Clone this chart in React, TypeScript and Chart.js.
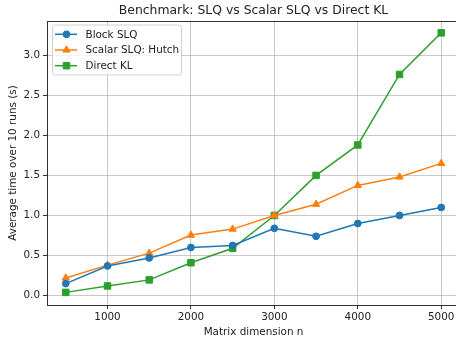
import React, { useEffect, useRef } from "react";
import { Chart, registerables } from "chart.js";

Chart.register(...registerables);

const sizes = [500, 1000, 1500, 2000, 2500, 3000, 3500, 4000, 4500, 5000];
const blockSLQ = [0.15, 0.37, 0.47, 0.6, 0.625, 0.84, 0.74, 0.9, 1.0, 1.1];
const scalarSLQ = [0.22, 0.38, 0.53, 0.755, 0.83, 1.0, 1.14, 1.375, 1.48, 1.65];
const directKL = [0.04, 0.12, 0.196, 0.41, 0.59, 1.0, 1.5, 1.88, 2.76, 3.28];
const xTicks = [1000, 2000, 3000, 4000, 5000];
const yTicks = [0, 0.5, 1.0, 1.5, 2.0, 2.5, 3.0];

const titleText = "Benchmark: SLQ vs Scalar SLQ vs Direct KL";
const xLabel = "Matrix dimension n";
const yLabel = "Average time over 10 runs (s)";

const FONT = "'DejaVu Sans', sans-serif";

const series = [
  { label: "Block SLQ", data: blockSLQ, color: "#1f77b4", style: "circle", radius: 3.4 },
  { label: "Scalar SLQ: Hutch", data: scalarSLQ, color: "#ff7f0e", style: "triangle", radius: 4.2 },
  { label: "Direct KL", data: directKL, color: "#2ca02c", style: "rect", radius: 4.6 },
];

function drawMarker(ctx: CanvasRenderingContext2D, style: string, radius: number, x: number, y: number) {
  ctx.beginPath();
  if (style === "circle") {
    ctx.arc(x, y, radius, 0, Math.PI * 2);
  } else if (style === "triangle") {
    const rad = -Math.PI / 2;
    ctx.moveTo(x + Math.cos(rad) * radius, y + Math.sin(rad) * radius);
    const r2 = rad + (2 * Math.PI) / 3;
    ctx.lineTo(x + Math.cos(r2) * radius, y + Math.sin(r2) * radius);
    const r3 = r2 + (2 * Math.PI) / 3;
    ctx.lineTo(x + Math.cos(r3) * radius, y + Math.sin(r3) * radius);
    ctx.closePath();
  } else {
    const s = Math.SQRT1_2 * radius;
    ctx.rect(x - s, y - s, 2 * s, 2 * s);
  }
  ctx.fill();
  ctx.stroke();
}

const decorPlugin = {
  id: "decor",
  afterDraw(chart: any) {
    const ctx = chart.ctx;
    const a = chart.chartArea;
    ctx.save();
    // top spine
    ctx.strokeStyle = "#333333";
    ctx.lineWidth = 1;
    ctx.beginPath();
    ctx.moveTo(a.left, a.top + 0.5);
    ctx.lineTo(a.right, a.top + 0.5);
    ctx.stroke();
    const cx = (a.left + a.right) / 2;
    ctx.fillStyle = "#222222";
    ctx.textAlign = "center";
    ctx.textBaseline = "middle";
    ctx.font = `12.4px ${FONT}`;
    ctx.fillText(titleText, cx, 11);
    ctx.font = `10.4px ${FONT}`;
    ctx.fillText(xLabel, cx, 332);
    ctx.save();
    ctx.translate(13, (a.top + a.bottom) / 2);
    ctx.rotate(-Math.PI / 2);
    ctx.fillText(yLabel, 0, 0);
    ctx.restore();

    // legend
    const bx = 52.5, by = 25, bw = 129, bh = 50;
    ctx.beginPath();
    const r = 3;
    ctx.moveTo(bx + r, by);
    ctx.lineTo(bx + bw - r, by);
    ctx.quadraticCurveTo(bx + bw, by, bx + bw, by + r);
    ctx.lineTo(bx + bw, by + bh - r);
    ctx.quadraticCurveTo(bx + bw, by + bh, bx + bw - r, by + bh);
    ctx.lineTo(bx + r, by + bh);
    ctx.quadraticCurveTo(bx, by + bh, bx, by + bh - r);
    ctx.lineTo(bx, by + r);
    ctx.quadraticCurveTo(bx, by, bx + r, by);
    ctx.closePath();
    ctx.fillStyle = "rgba(255,255,255,0.8)";
    ctx.fill();
    ctx.strokeStyle = "#d0d0d0";
    ctx.lineWidth = 1;
    ctx.stroke();
    ctx.textAlign = "left";
    series.forEach((s, i) => {
      const y = 34.3 + i * 15.7;
      ctx.strokeStyle = s.color;
      ctx.lineWidth = 1.5;
      ctx.beginPath();
      ctx.moveTo(55, y);
      ctx.lineTo(77, y);
      ctx.stroke();
      ctx.fillStyle = s.color;
      ctx.strokeStyle = s.color;
      ctx.lineWidth = 1;
      drawMarker(ctx, s.style, s.radius, 66.5, y);
      ctx.fillStyle = "#222222";
      ctx.font = `10.4px ${FONT}`;
      ctx.fillText(s.label, 85.5, y + 0.5);
    });
    ctx.restore();
  },
};

export default function App() {
  const ref = useRef<HTMLCanvasElement | null>(null);
  useEffect(() => {
    if (!ref.current) return;
    const chart = new Chart(ref.current, {
      type: "line",
      data: {
        datasets: series.map((s) => ({
          label: s.label,
          data: sizes.map((x, i) => ({ x, y: s.data[i] })),
          borderColor: s.color,
          backgroundColor: s.color,
          borderWidth: 1.5,
          pointStyle: s.style as any,
          pointRadius: s.radius,
          pointBorderWidth: 1,
          pointBackgroundColor: s.color,
          pointBorderColor: s.color,
          tension: 0,
          clip: false as any,
        })),
      },
      options: {
        animation: false,
        responsive: false,
        maintainAspectRatio: false,
        layout: { padding: { top: 21, left: 0, right: 6, bottom: 0 } },
        plugins: {
          legend: { display: false },
          title: { display: false },
          tooltip: { enabled: false },
        },
        scales: {
          x: {
            type: "linear",
            min: 275,
            max: 5225,
            afterFit: (s: any) => {
              s.height = 34;
            },
            afterBuildTicks: (s: any) => {
              s.ticks = xTicks.map((v) => ({ value: v }));
            },
            ticks: {
              color: "#222222",
              font: { family: FONT, size: 10.4 },
              padding: 2,
              maxRotation: 0,
              callback: (v: any) => String(v),
            },
            grid: {
              color: "rgba(176,176,176,0.7)",
              tickColor: "#333333",
              tickLength: 4,
              lineWidth: 1,
            },
            border: { color: "#333333", width: 1 },
          },
          y: {
            type: "linear",
            min: -0.1175,
            max: 3.4275,
            afterFit: (s: any) => {
              s.width = 47;
            },
            afterBuildTicks: (s: any) => {
              s.ticks = yTicks.map((v) => ({ value: v }));
            },
            ticks: {
              color: "#222222",
              font: { family: FONT, size: 10.4 },
              padding: 3,
              callback: (v: any) => Number(v).toFixed(1),
            },
            grid: {
              color: "rgba(176,176,176,0.7)",
              tickColor: "#333333",
              tickLength: 4,
              lineWidth: 1,
            },
            border: { color: "#333333", width: 1 },
          },
        },
      },
      plugins: [decorPlugin],
    });
    return () => chart.destroy();
  }, []);
  return (
    <div
      style={{
        position: "fixed",
        left: 0,
        top: 0,
        width: 456,
        height: 339,
        overflow: "hidden",
        background: "#ffffff",
      }}
    >
      <canvas ref={ref} width={466} height={339} style={{ width: 466, height: 339, display: "block" }} />
    </div>
  );
}
